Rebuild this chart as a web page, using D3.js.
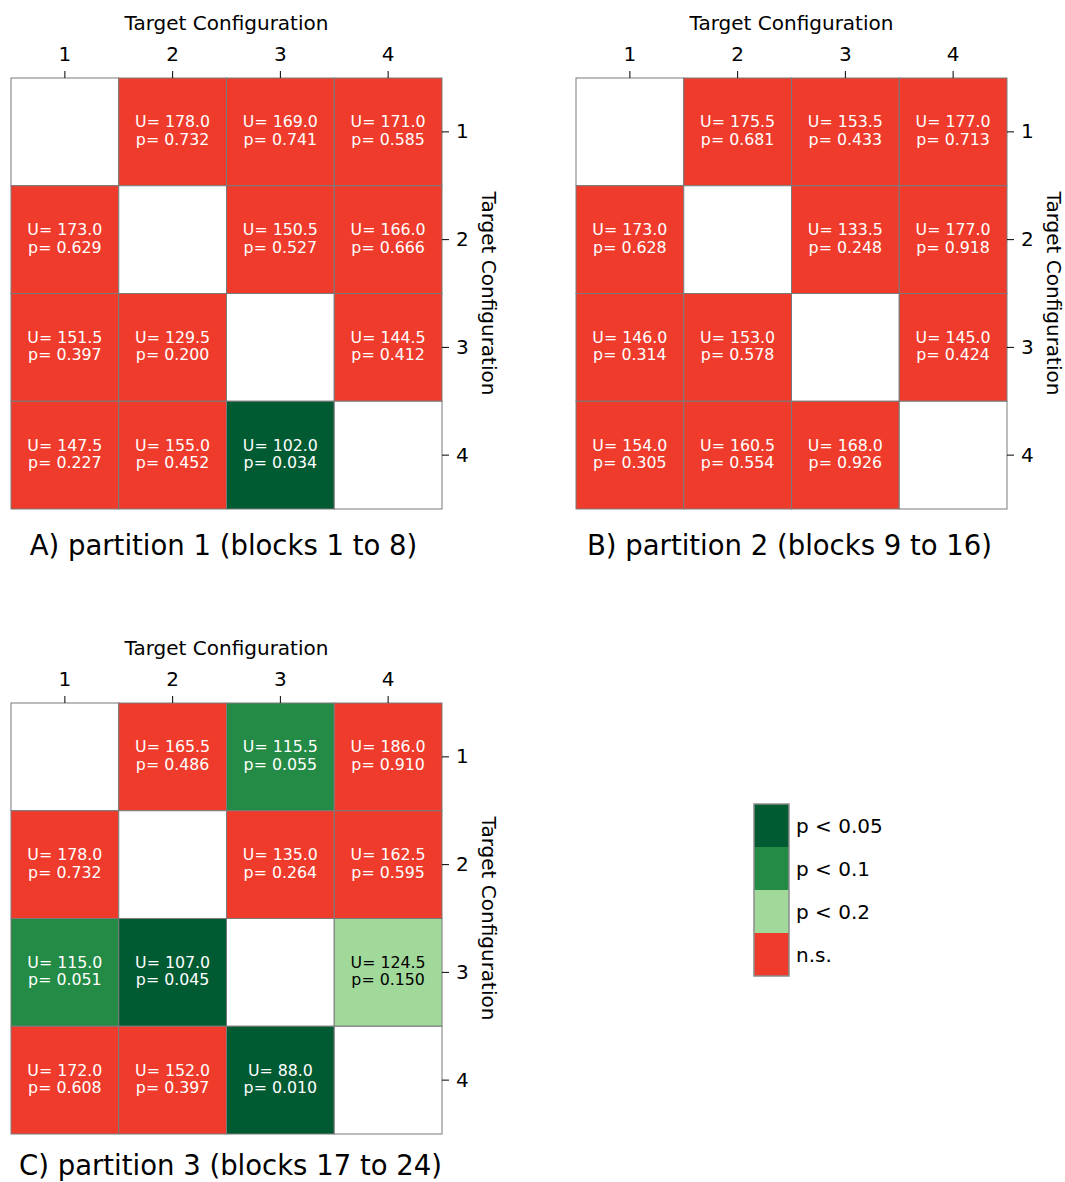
<!DOCTYPE html>
<html>
<head>
<meta charset="utf-8">
<script src="https://cdn.jsdelivr.net/npm/d3@7"></script>
<style>
  html, body { margin: 0; padding: 0; background: #fff; }
  svg { display: block; font-family: "DejaVu Sans", sans-serif; }
</style>
</head>
<body>
<svg id="chart" width="1065" height="1182"></svg>
<script>
// Target configurations (rows and columns of each matrix)
const configs = [1, 2, 3, 4];

// Mann-Whitney U statistics per partition, row-major; null on the diagonal
const uPart1 = [
  [null, 178.0, 169.0, 171.0],
  [173.0, null, 150.5, 166.0],
  [151.5, 129.5, null, 144.5],
  [147.5, 155.0, 102.0, null]
];
const pPart1 = [
  [null, 0.732, 0.741, 0.585],
  [0.629, null, 0.527, 0.666],
  [0.397, 0.200, null, 0.412],
  [0.227, 0.452, 0.034, null]
];

const uPart2 = [
  [null, 175.5, 153.5, 177.0],
  [173.0, null, 133.5, 177.0],
  [146.0, 153.0, null, 145.0],
  [154.0, 160.5, 168.0, null]
];
const pPart2 = [
  [null, 0.681, 0.433, 0.713],
  [0.628, null, 0.248, 0.918],
  [0.314, 0.578, null, 0.424],
  [0.305, 0.554, 0.926, null]
];

const uPart3 = [
  [null, 165.5, 115.5, 186.0],
  [178.0, null, 135.0, 162.5],
  [115.0, 107.0, null, 124.5],
  [172.0, 152.0, 88.0, null]
];
const pPart3 = [
  [null, 0.486, 0.055, 0.910],
  [0.732, null, 0.264, 0.595],
  [0.051, 0.045, null, 0.150],
  [0.608, 0.397, 0.010, null]
];

const captions = [
  "A) partition 1 (blocks 1 to 8)",
  "B) partition 2 (blocks 9 to 16)",
  "C) partition 3 (blocks 17 to 24)"
];

// Significance classes
const pThresholds = [0.05, 0.1, 0.2];
const classColors = ["#005a32", "#238b45", "#a1d99b", "#ef3b2c"];
const classLabels = ["p < 0.05", "p < 0.1", "p < 0.2", "n.s."];
const textColors = ["#ffffff", "#ffffff", "#000000", "#ffffff"];

const colorScale = d3.scaleThreshold().domain(pThresholds).range(classColors);
const textScale = d3.scaleThreshold().domain(pThresholds).range(textColors);

const svg = d3.select("#chart");
const size = 431;
const gridStroke = "#7a7a7a";

const x = d3.scaleBand().domain(configs).range([0, size]);
const y = d3.scaleBand().domain(configs).range([0, size]);

function drawPanel(ox, oy, uVals, pVals, caption, capDx, capDy) {
  const g = svg.append("g").attr("transform", `translate(${ox},${oy})`);

  const cells = [];
  configs.forEach((r, i) => configs.forEach((c, j) => {
    cells.push({ row: r, col: c, u: uVals[i][j], p: pVals[i][j] });
  }));

  const cell = g.selectAll("g.cell").data(cells).join("g").attr("class", "cell");
  cell.append("rect")
    .attr("x", d => x(d.col))
    .attr("y", d => y(d.row))
    .attr("width", x.bandwidth())
    .attr("height", y.bandwidth())
    .attr("fill", d => d.p == null ? "#ffffff" : colorScale(d.p))
    .attr("stroke", gridStroke)
    .attr("stroke-width", 1);

  const labelled = cell.filter(d => d.p != null);
  const txt = labelled.append("text")
    .attr("text-anchor", "middle")
    .attr("font-size", "15.8px")
    .attr("fill", d => textScale(d.p));
  txt.append("tspan")
    .attr("x", d => x(d.col) + x.bandwidth() / 2)
    .attr("y", d => y(d.row) + y.bandwidth() / 2 - 4.5)
    .text(d => "U= " + d3.format(".1f")(d.u));
  txt.append("tspan")
    .attr("x", d => x(d.col) + x.bandwidth() / 2)
    .attr("y", d => y(d.row) + y.bandwidth() / 2 + 13)
    .text(d => "p= " + d3.format(".3f")(d.p));

  // top axis
  const top = g.append("g")
    .call(d3.axisTop(x).tickSize(7).tickPadding(10));
  top.select(".domain").remove();
  top.selectAll("text").attr("font-size", "20px").attr("font-family", "DejaVu Sans").attr("fill", "#000");
  top.selectAll("line").attr("stroke", "#000").attr("stroke-width", 1);

  // right axis
  const right = g.append("g")
    .attr("transform", `translate(${size},0)`)
    .call(d3.axisRight(y).tickSize(7).tickPadding(7));
  right.select(".domain").remove();
  right.selectAll("text").attr("font-size", "20px").attr("font-family", "DejaVu Sans").attr("fill", "#000");
  right.selectAll("line").attr("stroke", "#000").attr("stroke-width", 1);

  g.append("text")
    .attr("x", size / 2)
    .attr("y", -48)
    .attr("text-anchor", "middle")
    .attr("font-size", "20px")
    .text("Target Configuration");

  g.append("text")
    .attr("transform", `translate(${size + 40},${size / 2}) rotate(90)`)
    .attr("text-anchor", "middle")
    .attr("font-size", "20px")
    .text("Target Configuration");

  g.append("text")
    .attr("x", size / 2 + capDx)
    .attr("y", size + capDy)
    .attr("text-anchor", "middle")
    .attr("font-size", "27.5px")
    .text(caption);
}

drawPanel(11, 78, uPart1, pPart1, captions[0], -3, 46);
drawPanel(576, 78, uPart2, pPart2, captions[1], -2, 46);
drawPanel(11, 703, uPart3, pPart3, captions[2], 4, 41);

// Discrete legend
const legend = svg.append("g").attr("transform", "translate(754,804)");
const ly = d3.scaleBand().domain(classLabels).range([0, 172]);
legend.selectAll("rect.sw").data(classLabels).join("rect")
  .attr("class", "sw")
  .attr("x", 0)
  .attr("y", d => ly(d))
  .attr("width", 35)
  .attr("height", ly.bandwidth())
  .attr("fill", (d, i) => classColors[i]);
legend.append("rect")
  .attr("x", 0).attr("y", 0).attr("width", 35).attr("height", 172)
  .attr("fill", "none").attr("stroke", "#8c8c8c").attr("stroke-width", 1.5);
legend.selectAll("text").data(classLabels).join("text")
  .attr("x", 42)
  .attr("y", d => ly(d) + ly.bandwidth() / 2)
  .attr("dy", "0.35em")
  .attr("font-size", "20px")
  .text(d => d);
</script>
</body>
</html>
